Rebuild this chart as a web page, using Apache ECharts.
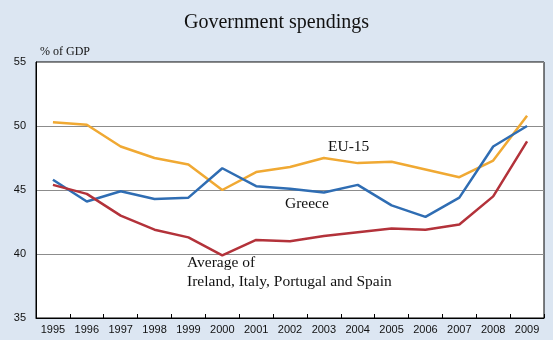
<!DOCTYPE html>
<html>
<head>
<meta charset="utf-8">
<script src="https://cdn.jsdelivr.net/npm/echarts@6/dist/echarts.min.js"></script>
<style>
  html, body { margin: 0; padding: 0; background: #dce6f2; }
  #chart { width: 553px; height: 340px; }
</style>
</head>
<body>
<div id="chart"></div>
<script>
// General government expenditure, % of GDP
const years = ['1995','1996','1997','1998','1999','2000','2001','2002','2003','2004','2005','2006','2007','2008','2009'];
const eu15 = [50.3, 50.1, 48.4, 47.5, 47.0, 45.0, 46.4, 46.8, 47.5, 47.1, 47.2, 46.6, 46.0, 47.3, 50.8];
const greece = [45.8, 44.1, 44.9, 44.3, 44.4, 46.7, 45.3, 45.1, 44.8, 45.4, 43.8, 42.9, 44.4, 48.4, 50.0];
const periphery = [45.4, 44.7, 43.0, 41.9, 41.3, 39.9, 41.1, 41.0, 41.4, 41.7, 42.0, 41.9, 42.3, 44.5, 48.8];
const yTicks = [35, 40, 45, 50, 55];

const serif = '"Liberation Serif", "DejaVu Serif", serif';
const sans = '"Liberation Sans", Arial, sans-serif';

const chart = echarts.init(document.getElementById('chart'));

function line(name, data, color) {
  return {
    name, type: 'line', data,
    symbol: 'none',
    lineStyle: { color, width: 2.5 },
    itemStyle: { color },
    z: 3
  };
}

chart.setOption({
  backgroundColor: '#dce6f2',
  animation: false,
  title: {
    text: 'Government spendings',
    left: 'center', top: 8,
    textStyle: { fontFamily: serif, fontSize: 20, fontWeight: 'normal', color: '#111' }
  },
  grid: {
    left: 36, right: 9, top: 62, bottom: 22,
    show: true, backgroundColor: '#ffffff', borderColor: '#000', borderWidth: 1
  },
  xAxis: {
    type: 'category', data: years, boundaryGap: true,
    axisLine: { lineStyle: { color: '#000', width: 1 } },
    axisTick: { show: true, inside: true, length: 4, lineStyle: { color: '#000' } },
    axisLabel: { fontFamily: sans, fontSize: 11, color: '#111', margin: 6 },
    splitLine: { show: false }
  },
  yAxis: {
    type: 'value', min: yTicks[0], max: yTicks[yTicks.length - 1], interval: 5,
    name: '% of GDP', nameLocation: 'end', nameGap: 4,
    nameTextStyle: { fontFamily: serif, fontSize: 12, color: '#111', align: 'left', padding: [0, 0, 0, 4] },
    axisLine: { show: true, lineStyle: { color: '#000' } },
    axisTick: { show: false },
    axisLabel: { fontFamily: sans, fontSize: 11, color: '#111', margin: 10 },
    splitLine: { show: true, lineStyle: { color: '#8c8c8c', width: 1 } }
  },
  series: [
    line('EU-15', eu15, '#f0a933'),
    line('Greece', greece, '#2f6db3'),
    line('Average of Ireland, Italy, Portugal and Spain', periphery, '#b3323a')
  ],
  graphic: [
    { type: 'text', left: 328, top: 139,
      style: { text: 'EU-15', font: '15.5px ' + serif, fill: '#111' } },
    { type: 'text', left: 285, top: 196,
      style: { text: 'Greece', font: '15.5px ' + serif, fill: '#111' } },
    { type: 'text', left: 187, top: 253,
      style: { text: 'Average of\nIreland, Italy, Portugal and Spain', font: '15.5px ' + serif, fill: '#111', lineHeight: 19 } }
  ]
});
</script>
</body>
</html>
